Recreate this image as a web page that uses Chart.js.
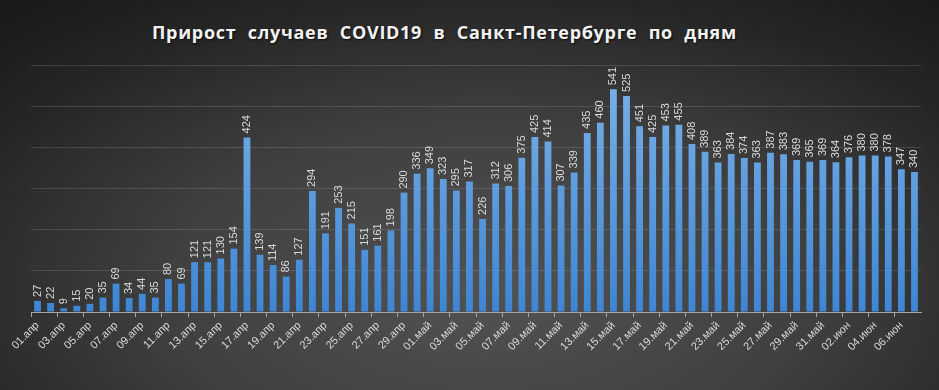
<!DOCTYPE html>
<html>
<head>
<meta charset="utf-8">
<script src="https://cdn.jsdelivr.net/npm/chart.js@4"></script>
<style>
  html, body { margin: 0; padding: 0; }
  body {
    width: 939px; height: 390px; overflow: hidden; position: relative;
    background: radial-gradient(ellipse 75% 95% at 52% 75%, #525252 0%, #404040 45%, #262626 80%, #1b1b1b 100%);
  }
  #title {
    position: absolute; left: 152px; top: 20px;
    font-family: 'Open Sans', sans-serif; font-weight: bold; font-size: 18px;
    color: #f2f2f2; word-spacing: 6px; letter-spacing: 0.7px; white-space: nowrap;
    text-shadow: 1px 1px 2px rgba(0,0,0,0.8);
  }
  #wrap { position: absolute; left: 0; top: 0; width: 939px; height: 390px; }
</style>
</head>
<body>
<div id="title">Прирост случаев COVID19 в Санкт-Петербурге по дням</div>
<div id="wrap"><canvas id="covidChart"></canvas></div>
<script>
const aprilDays = 30;
const mayDays = 31;
const juneDays = 7;

const aprilCases = [27, 22, 9, 15, 20, 35, 69, 34, 44, 35, 80, 69, 121, 121, 130, 154, 424, 139, 114, 86,
  127, 294, 191, 253, 215, 151, 161, 198, 290, 336];
const mayCases = [349, 323, 295, 317, 226, 312, 306, 375, 425, 414, 307, 339, 435, 460, 541, 525, 451, 425,
  453, 455, 408, 389, 363, 384, 374, 363, 387, 383, 369, 365, 369];
const juneCases = [364, 376, 380, 380, 378, 347, 340];

function dayLabels(count, month) {
  const out = [];
  for (let d = 1; d <= count; d++) out.push(String(d).padStart(2, '0') + '.' + month);
  return out;
}

const labels = [
  ...dayLabels(aprilDays, 'апр'),
  ...dayLabels(mayDays, 'май'),
  ...dayLabels(juneDays, 'июн'),
];
const cases = [...aprilCases, ...mayCases, ...juneCases];

// value labels drawn vertically above each bar
const barValues = {
  id: 'barValues',
  afterDatasetsDraw(chart) {
    const ctx = chart.ctx;
    const meta = chart.getDatasetMeta(0);
    ctx.save();
    ctx.fillStyle = '#d9d9d9';
    ctx.font = '11px "Liberation Sans", sans-serif';
    ctx.textAlign = 'left';
    ctx.textBaseline = 'middle';
    meta.data.forEach((bar, i) => {
      ctx.save();
      ctx.translate(bar.x, bar.y - 4);
      ctx.rotate(-Math.PI / 2);
      ctx.fillText(String(cases[i]), 0, 0);
      ctx.restore();
    });
    ctx.restore();
  }
};

function barGradient(context) {
  const chart = context.chart;
  const area = chart.chartArea;
  if (!area) return '#4a90d9';
  const g = chart.ctx.createLinearGradient(0, area.top, 0, area.bottom);
  g.addColorStop(0, '#7db3e8');
  g.addColorStop(1, '#3d86d4');
  return g;
}

const ctx = document.getElementById('covidChart').getContext('2d');
new Chart(ctx, {
  type: 'bar',
  data: {
    labels: labels,
    datasets: [{
      data: cases,
      backgroundColor: barGradient,
      borderWidth: 0,
      barPercentage: 0.52,
      categoryPercentage: 1,
    }],
  },
  options: {
    responsive: true,
    maintainAspectRatio: false,
    animation: false,
    layout: { padding: { left: 31, right: 18, top: 65, bottom: 0 } },
    plugins: {
      legend: { display: false },
      tooltip: { enabled: false },
    },
    scales: {
      x: {
        afterFit: (scale) => { scale.height = 78; },
        border: { display: true, color: '#a6a6a6', width: 1 },
        grid: {
          offset: true,
          drawOnChartArea: false,
          tickLength: 5,
          tickColor: (c) => (c.index % 2 === 0 ? '#a6a6a6' : 'rgba(0,0,0,0)'),
        },
        ticks: {
          autoSkip: false,
          minRotation: 45,
          maxRotation: 45,
          color: '#d9d9d9',
          font: { family: '"Liberation Sans", sans-serif', size: 11 },
          padding: 2,
          callback: function (value, index) {
            return index % 2 === 0 ? this.getLabelForValue(value) : '';
          },
        },
      },
      y: {
        min: 0,
        max: 600,
        afterFit: (scale) => { scale.width = 0; },
        border: { display: false },
        grid: { color: 'rgba(255,255,255,0.13)', drawTicks: false },
        ticks: { display: false, stepSize: 100 },
      },
    },
  },
  plugins: [barValues],
});
</script>
</body>
</html>
